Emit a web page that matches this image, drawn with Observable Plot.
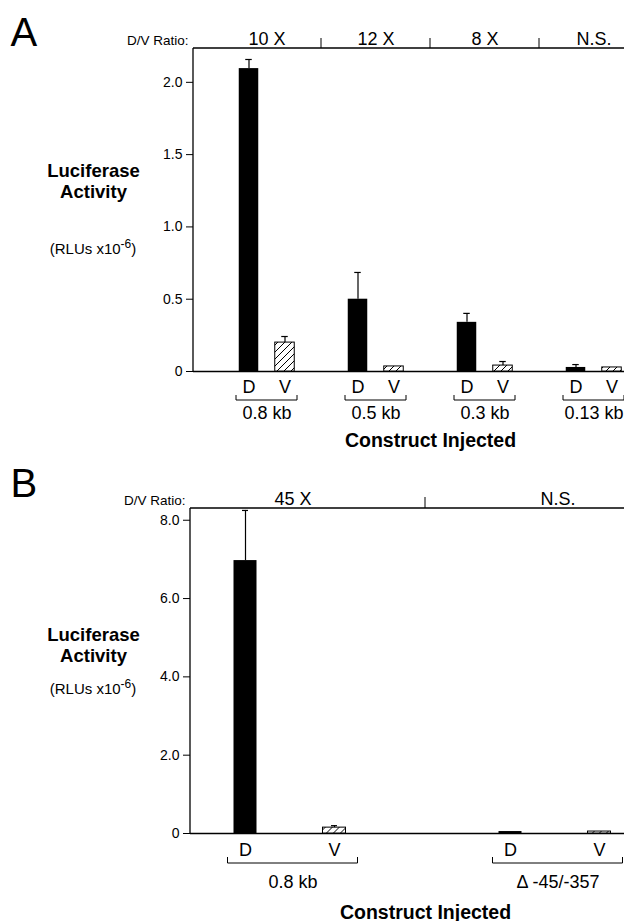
<!DOCTYPE html>
<html><head><meta charset="utf-8">
<script src="https://cdn.jsdelivr.net/npm/d3@7"></script>
<script src="https://cdn.jsdelivr.net/npm/@observablehq/plot@0.6"></script>
<style>
html,body{margin:0;padding:0;background:#fff;overflow:hidden}
#chart{width:624px;height:921px;position:relative;overflow:hidden}
#chart svg{display:block}
</style></head><body><div id="chart"></div>
<script>
// ---------- Panel A data ----------
const constructsA = ["0.8 kb", "0.5 kb", "0.3 kb", "0.13 kb"];
const ratiosA = ["10 X", "12 X", "8 X", "N.S."];
const dorsalA = [2.095, 0.50, 0.34, 0.028];
const dorsalErrA = [0.063, 0.185, 0.062, 0.02];
const ventralA = [0.20, 0.035, 0.041, 0.028];
const ventralErrA = [0.042, 0, 0.028, 0];
const yTicksA = [0, 0.5, 1.0, 1.5, 2.0];
const yMaxA = 2.234;

// ---------- Panel B data ----------
const constructsB = ["0.8 kb", "\u0394 -45/-357"];
const ratiosB = ["45 X", "N.S."];
const dorsalB = [6.97, 0.05];
const dorsalErrB = [1.28, 0];
const ventralB = [0.15, 0.05];
const ventralErrB = [0.05, 0];
const yTicksB = [0, 2, 4, 6, 8];
const yMaxB = 8.30;

const yTitleLines = ["Luciferase", "Activity"];

const FONT = '"Liberation Sans", Arial, Helvetica, sans-serif';

const layoutA = {letter: "A", hatch: "hatchA", height: 460, marginTop: 48, zeroY: 371, marginLeft: 193,
  step: 109.5, firstCenter: 266, barW: 20, capW: 7, dOff: -18, vOff: 18, sideDy: 21,
  bracketDy: 29, bracketH: 5, bracketHalf: 30.5, consDy: 47, xTitleDx: 21.5, xTitleDy: 75,
  titleDy: 149, rluY: 254, letterDy: -3, sepH: 10};
const layoutB = {letter: "B", hatch: "hatchB", height: 461, marginTop: 48, zeroY: 373, marginLeft: 190,
  step: 265, firstCenter: 292, barW: 23, capW: 6, dOff: -47.5, vOff: 41.5, sideDy: 22,
  bracketDy: 30, bracketH: 6, bracketHalf: 65, consDy: 54, xTitleDx: 18, xTitleDy: 85,
  titleDy: 153, rluY: 234, letterDy: -12, sepH: 11};

function decor(constructs, L) {
  return (index, scales, values, dim) => {
    const x = scales.x;
    const bw = x.bandwidth();
    const g = d3.create("svg:g");
    const pat = g.append("defs").append("pattern")
      .attr("id", L.hatch).attr("patternUnits", "userSpaceOnUse")
      .attr("width", 7).attr("height", 7);
    pat.append("rect").attr("width", 7).attr("height", 7).attr("fill", "white");
    pat.append("path").attr("d", "M-1,1 l2,-2 M0,7 l7,-7 M6,8 l2,-2")
      .attr("stroke", "black").attr("stroke-width", 1);
    const top = dim.marginTop, bottom = dim.height - dim.marginBottom;
    // frame: left axis line and top line
    g.append("line").attr("x1", dim.marginLeft).attr("x2", dim.marginLeft)
      .attr("y1", top).attr("y2", bottom).attr("stroke", "black").attr("stroke-width", 1.3);
    g.append("line").attr("x1", dim.marginLeft).attr("x2", dim.width)
      .attr("y1", top).attr("y2", top).attr("stroke", "black").attr("stroke-width", 1.3);
    // header separators between ratio labels
    constructs.slice(1).forEach(c => {
      const sx = x(c);
      g.append("line").attr("x1", sx).attr("x2", sx).attr("y1", top - L.sepH).attr("y2", top)
        .attr("stroke", "black").attr("stroke-width", 1);
    });
    // brackets under each construct
    constructs.forEach(c => {
      const cx = x(c) + bw / 2, yb = bottom + L.bracketDy;
      g.append("path")
        .attr("d", `M${cx - L.bracketHalf},${yb - L.bracketH}V${yb}H${cx + L.bracketHalf}V${yb - L.bracketH}`)
        .attr("fill", "none").attr("stroke", "black").attr("stroke-width", 1);
    });
    // units label with superscript
    const t = g.append("text").attr("x", 93).attr("y", L.rluY).attr("text-anchor", "middle")
      .attr("font-size", 15).attr("font-family", FONT).attr("fill", "black");
    t.append("tspan").text("(RLUs x10");
    t.append("tspan").attr("dy", -6).attr("font-size", 12).text("-6");
    t.append("tspan").attr("dy", 6).text(")");
    return g.node();
  };
}

function drawPanel(constructs, ratios, dorsal, dorsalErr, ventral, ventralErr, yTicks, yMax, L) {
  const rows = constructs.flatMap((c, i) => [
    {construct: c, ratio: ratios[i], side: "D", value: dorsal[i], err: dorsalErr[i]},
    {construct: c, ratio: ratios[i], side: "V", value: ventral[i], err: ventralErr[i]}
  ]);
  const D = rows.filter(d => d.side === "D");
  const V = rows.filter(d => d.side === "V");
  const inset = (L.step - L.barW) / 2;
  const capInset = (L.step - L.capW) / 2;
  const xStart = L.firstCenter - L.step / 2;
  return Plot.plot({
    width: 624,
    height: L.height,
    marginTop: L.marginTop,
    marginLeft: L.marginLeft,
    marginRight: 0,
    marginBottom: L.height - L.zeroY,
    style: {fontFamily: FONT, fontSize: "14px", color: "black", background: "white"},
    x: {type: "band", domain: constructs, range: [xStart, xStart + L.step * constructs.length], padding: 0, axis: null},
    y: {domain: [0, yMax], ticks: yTicks, tickFormat: d => d === 0 ? "0" : d.toFixed(1), tickSize: 7, tickPadding: 4, label: null},
    marks: [
      Plot.ruleY([0], {stroke: "black", strokeWidth: 1.3}),
      Plot.barY(D, {x: "construct", y: "value", fill: "black", dx: L.dOff, insetLeft: inset, insetRight: inset}),
      Plot.barY(V, {x: "construct", y: "value", fill: `url(#${L.hatch})`, stroke: "black", strokeWidth: 1, dx: L.vOff, insetLeft: inset, insetRight: inset}),
      Plot.ruleX(D.filter(d => d.err > 0), {x: "construct", y1: "value", y2: d => d.value + d.err, dx: L.dOff, stroke: "black", strokeWidth: 1.2}),
      Plot.ruleX(V.filter(d => d.err > 0), {x: "construct", y1: "value", y2: d => d.value + d.err, dx: L.vOff, stroke: "black", strokeWidth: 1.2}),
      Plot.tickY(D.filter(d => d.err > 0), {x: "construct", y: d => d.value + d.err, dx: L.dOff, insetLeft: capInset, insetRight: capInset, stroke: "black", strokeWidth: 1.2}),
      Plot.tickY(V.filter(d => d.err > 0), {x: "construct", y: d => d.value + d.err, dx: L.vOff, insetLeft: capInset, insetRight: capInset, stroke: "black", strokeWidth: 1.2}),
      Plot.text(D, {x: "construct", text: "side", frameAnchor: "bottom", dx: L.dOff, dy: L.sideDy, lineAnchor: "bottom", textAnchor: "middle", fontSize: 18}),
      Plot.text(V, {x: "construct", text: "side", frameAnchor: "bottom", dx: L.vOff, dy: L.sideDy, lineAnchor: "bottom", textAnchor: "middle", fontSize: 18}),
      Plot.text(D, {x: "construct", text: "construct", frameAnchor: "bottom", dy: L.consDy, lineAnchor: "bottom", textAnchor: "middle", fontSize: 18}),
      Plot.text(D, {x: "construct", text: "ratio", frameAnchor: "top", dy: -4, lineAnchor: "bottom", textAnchor: "middle", fontSize: 18}),
      Plot.text(["D/V Ratio:"], {text: d => d, frameAnchor: "top-left", dx: -5, dy: -4, textAnchor: "end", lineAnchor: "bottom", fontSize: 13.5}),
      Plot.text([L.letter], {text: d => d, frameAnchor: "top-left", dx: 10 - L.marginLeft, dy: L.letterDy, textAnchor: "start", lineAnchor: "bottom", fontSize: 40}),
      Plot.text([yTitleLines[0]], {text: d => d, frameAnchor: "top-left", dx: 93 - L.marginLeft, dy: L.titleDy - 21, textAnchor: "middle", lineAnchor: "bottom", fontWeight: "bold", fontSize: 18.5}),
      Plot.text([yTitleLines[1]], {text: d => d, frameAnchor: "top-left", dx: 93 - L.marginLeft, dy: L.titleDy, textAnchor: "middle", lineAnchor: "bottom", fontWeight: "bold", fontSize: 18.5}),
      Plot.text(["Construct Injected"], {text: d => d, frameAnchor: "bottom", dx: L.xTitleDx, dy: L.xTitleDy, textAnchor: "middle", lineAnchor: "bottom", fontWeight: "bold", fontSize: 19.5}),
      decor(constructs, L)
    ]
  });
}

const chart = document.getElementById("chart");
chart.appendChild(drawPanel(constructsA, ratiosA, dorsalA, dorsalErrA, ventralA, ventralErrA, yTicksA, yMaxA, layoutA));
chart.appendChild(drawPanel(constructsB, ratiosB, dorsalB, dorsalErrB, ventralB, ventralErrB, yTicksB, yMaxB, layoutB));
</script></body></html>
